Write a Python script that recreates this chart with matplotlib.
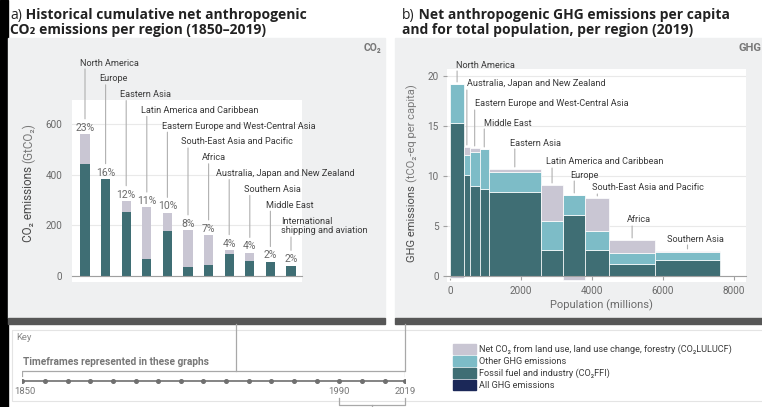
import matplotlib
matplotlib.use("Agg")
import matplotlib.pyplot as plt
import numpy as np
from matplotlib import font_manager
from matplotlib.patches import Rectangle

# ---- data ------------------------------------------------------------------
# a) cumulative net CO2 1850-2019 (GtCO2)
regions_a = ["North America", "Europe", "Eastern Asia", "Latin America and Caribbean",
             "Eastern Europe and West-Central Asia", "South-East Asia and Pacific", "Africa",
             "Australia, Japan and New Zealand", "Southern Asia", "Middle East",
             "International\nshipping and aviation"]
ffi_a = [442, 381, 252, 67, 177, 36, 45, 86, 58, 55, 41]
lulucf_a = [118, 2, 44, 204, 73, 145, 116, 17, 34, 1, 0]
share_a = ["23%", "16%", "12%", "11%", "10%", "8%", "7%", "4%", "4%", "2%", "2%"]

# b) GHG per capita 2019 (tCO2-eq per capita) vs population (millions)
regions_b = ["North America", "Australia, Japan and New Zealand", "Eastern Europe and West-Central Asia",
             "Middle East", "Eastern Asia", "Latin America and Caribbean", "Europe",
             "South-East Asia and Pacific", "Africa", "Southern Asia"]
population_b = [400, 150, 290, 250, 1470, 630, 620, 680, 1280, 1840]
ffi_b = [15.3, 10.1, 9.0, 8.7, 8.4, 2.6, 6.1, 2.6, 1.2, 1.6]
other_b = [3.9, 2.0, 3.4, 4.0, 2.0, 2.9, 2.0, 1.9, 1.1, 0.8]
lulucf_b = [-0.2, 0.8, 0.4, 0.0, 0.3, 3.6, -0.4, 3.3, 1.3, 0.1]

timeline_years = [1850, 1860, 1870, 1880, 1890, 1900, 1910, 1920, 1930, 1940,
                  1950, 1960, 1970, 1980, 1990, 2000, 2010, 2019]
legend_labels = ["Net CO\u2082 from land use, land use change, forestry (CO\u2082LULUCF)",
                 "Other GHG emissions", "Fossil fuel and industry (CO\u2082FFI)", "All GHG emissions"]

# ---- style -----------------------------------------------------------------
C_FFI = "#3f6e74"
C_OTHER = "#7dbcc7"
C_LULUCF = "#c9c6d3"
C_ALL = "#1b2858"
C_PANEL = "#eff0f1"
C_BAR = "#575757"
C_TXT = "#3a3a3a"
C_TICK = "#6a6a6a"

installed = {f.name for f in font_manager.fontManager.ttflist}
NARROW = [f for f in ["Liberation Sans Narrow", "Roboto"] if f in installed][:1] + ["DejaVu Sans"]
TITLE = ["Open Sans", "DejaVu Sans"]
LBL = 6.6  # region labels

W, H = 762, 407
fig = plt.figure(figsize=(W / 100, H / 100), dpi=100)

bg = fig.add_axes([0, 0, 1, 1])
bg.set_xlim(0, W)
bg.set_ylim(H, 0)
bg.axis("off")


def px_axes(x0, y0, x1, y1):
    return fig.add_axes([x0 / W, 1 - y1 / H, (x1 - x0) / W, (y1 - y0) / H])


# backgrounds
bg.add_patch(Rectangle((0, 0), 8, H, color="black"))
bg.add_patch(Rectangle((8, 38), 377, 280, color=C_PANEL))
bg.add_patch(Rectangle((395, 38), 367, 280, color=C_PANEL))
bg.add_patch(Rectangle((8, 318), 377, 6, color=C_BAR))
bg.add_patch(Rectangle((395, 318), 367, 6, color=C_BAR))
bg.add_patch(Rectangle((12, 330), 760, 71, fill=False, edgecolor="#e4e4e4", lw=0.8))

# titles
def title(x, y, prefix, rest):
    t = bg.text(x, y, prefix, fontsize=10, family=TITLE, va="baseline", color="#222")
    bg.annotate(rest, xy=(1, y), xycoords=(t, "data"), fontsize=10, family=TITLE,
                fontweight="bold", va="baseline", color="#222")

title(10, 18.5, "a)", " Historical cumulative net anthropogenic")
bg.text(10, 34, "CO\u2082 emissions per region (1850\u20132019)", fontsize=10, family=TITLE,
        fontweight="bold", va="baseline", color="#222")
title(402, 18.5, "b)", " Net anthropogenic GHG emissions per capita")
bg.text(402, 34, "and for total population, per region (2019)", fontsize=10, family=TITLE,
        fontweight="bold", va="baseline", color="#222")

bg.text(381, 48, "CO\u2082", fontsize=7.5, family=NARROW, fontweight="bold", color="#777",
        ha="right", va="center")
bg.text(761, 48, "GHG", fontsize=8, family=NARROW, fontweight="bold", color="#777",
        ha="right", va="center")


def ylabel(x, y, strong, light, size):
    t = bg.text(x, y, strong, rotation=90, fontsize=size, family=NARROW, color="#4a4a4a",
                ha="center", va="bottom")
    bg.annotate(light, xy=(0.5, 1), xycoords=t, rotation=90, fontsize=size, family=NARROW,
                color="#7a7a7a", ha="center", va="bottom")

ylabel(29, 242, "CO\u2082 emissions ", "(GtCO\u2082)", 8.5)
ylabel(412, 262, "GHG emissions ", "(tCO\u2082-eq per capita)", 8)
bg.text(601, 305, "Population (millions)", fontsize=8, family=NARROW, color=C_TICK,
        ha="center", va="center")

# ---- panel a ---------------------------------------------------------------
ax_a = px_axes(72, 100, 302, 282)
xa = np.arange(len(regions_a))
tot_a = np.array(ffi_a) + np.array(lulucf_a)
ax_a.bar(xa, ffi_a, width=0.45, color=C_FFI, zorder=2)
ax_a.bar(xa, lulucf_a, bottom=ffi_a, width=0.45, color=C_LULUCF, zorder=2)
ax_a.set_xlim(-0.631, 10.534)
ax_a.set_ylim(-23.7, 694.7)
ax_a.set_xticks([])
ax_a.set_yticks([0, 200, 400, 600])
ax_a.grid(axis="y", color="#e9e9e9", lw=0.8)
ax_a.set_axisbelow(True)
for s in ["top", "right", "left"]:
    ax_a.spines[s].set_visible(False)
ax_a.spines["bottom"].set_position(("data", 0))
ax_a.spines["bottom"].set_color("#a0a0a0")
ax_a.tick_params(axis="y", length=0, pad=7, labelsize=7.2, labelcolor=C_TICK)
for lab in ax_a.get_yticklabels():
    lab.set_family(NARROW)

dx_a = [-4.5, -6, -6.5, -5.5, -5, -6.5, -6.5, -13, -5.5, -4.5, -10]
for i, name in enumerate(regions_a):
    ax_a.annotate(share_a[i], xy=(i, tot_a[i]), xytext=(0, 1), textcoords="offset points",
                  ha="center", va="bottom", fontsize=7.5, family=NARROW, color=C_TICK)
    ly = H - (63 + 15.8 * i) - (5 if "\n" in name else 0)
    ax_a.annotate(name, xy=(i, ly), xycoords=("data", "figure pixels"),
                  xytext=(dx_a[i] * 0.72, 0), textcoords="offset points",
                  ha="left", va="center", fontsize=LBL, family=NARROW, color=C_TXT,
                  linespacing=1.05, annotation_clip=False)
    top_y = ly - (11 if "\n" in name else 6)
    ax_a.annotate("", xy=(i, tot_a[i]), xytext=(i, top_y), textcoords=("data", "figure pixels"),
                  arrowprops=dict(arrowstyle="-", color="#b0b0b0", lw=0.8,
                                  shrinkA=0, shrinkB=11), annotation_clip=False)

# ---- panel b ---------------------------------------------------------------
ax_b = px_axes(447, 69, 746, 282)
pop = np.array(population_b)
lefts = np.concatenate([[0], np.cumsum(pop)[:-1]])
ffi = np.array(ffi_b)
oth = np.array(other_b)
lu = np.array(lulucf_b)
kw = dict(align="edge", edgecolor="white", linewidth=0.5, zorder=2)
ax_b.bar(lefts, ffi, width=pop, color=C_FFI, **kw)
ax_b.bar(lefts, oth, bottom=ffi, width=pop, color=C_OTHER, **kw)
ax_b.bar(lefts, np.clip(lu, 0, None), bottom=ffi + oth, width=pop, color=C_LULUCF, **kw)
ax_b.bar(lefts, np.clip(lu, None, 0), width=pop, color=C_LULUCF, **kw)
ax_b.set_xlim(-84.5, 8338)
ax_b.set_ylim(-0.6, 20.7)
ax_b.set_xticks([0, 2000, 4000, 6000, 8000])
ax_b.set_yticks([0, 5, 10, 15, 20])
ax_b.grid(axis="y", color="#e9e9e9", lw=0.8)
ax_b.set_axisbelow(True)
for s in ["top", "right", "left"]:
    ax_b.spines[s].set_visible(False)
ax_b.spines["bottom"].set_position(("data", 0))
ax_b.spines["bottom"].set_color("#a0a0a0")
ax_b.tick_params(axis="both", length=3, color="#a0a0a0", labelsize=7.2, labelcolor=C_TICK)
ax_b.tick_params(axis="x", pad=4)
ax_b.tick_params(axis="y", pad=3)
for lab in ax_b.get_xticklabels() + ax_b.get_yticklabels():
    lab.set_family(NARROW)

ly_b = [65, 84, 104, 123, 143, 162, 175, 188, 220, 239]
dx_b = [-1, 0, 0, 0, -5, -6, -4, -5, -5, -20]
tops_b = ffi + oth + np.clip(lu, 0, None)
for i, name in enumerate(regions_b):
    cx = lefts[i] + pop[i] / 2
    ly = H - ly_b[i]
    ax_b.annotate(name, xy=(cx, ly), xycoords=("data", "figure pixels"),
                  xytext=(dx_b[i] * 0.72, 0), textcoords="offset points",
                  ha="left", va="center", fontsize=LBL, family=NARROW, color=C_TXT,
                  annotation_clip=False)
    ax_b.annotate("", xy=(cx, tops_b[i]), xytext=(cx, ly - 6), textcoords=("data", "figure pixels"),
                  arrowprops=dict(arrowstyle="-", color="#b0b0b0", lw=0.8,
                                  shrinkA=0, shrinkB=1.5), annotation_clip=False)

# ---- key -------------------------------------------------------------------
bg.text(16, 338, "Key", fontsize=6.8, family=NARROW, color="#888", va="center")
bg.text(23, 362, "Timeframes represented in these graphs", fontsize=7.3, family=NARROW,
        fontweight="bold", color="#777", va="center")
bg.plot([236, 236], [324, 371], color="#a8a8a8", lw=0.9)

tl = px_axes(22.3, 330, 405, 401)
tl.set_xlim(1850, 2019)
tl.set_ylim(401, 330)
tl.axis("off")
tl.plot(timeline_years, [380.7] * len(timeline_years), color="#707070", lw=1.2,
        marker="o", ms=2.6)
tl.plot([1850, 1850, 2019, 2019], [376, 371, 371, 376], color="#a8a8a8", lw=0.9)
tl.plot([2019, 2019], [324, 371], color="#a8a8a8", lw=0.9, clip_on=False)
tl.plot([1990, 1990, 2019, 2019], [398, 405, 405, 398], color="#a8a8a8", lw=0.9, clip_on=False)
tl.plot([2004.5, 2004.5], [405, 410], color="#a8a8a8", lw=0.9, clip_on=False)
for yr in [1850, 1990, 2019]:
    tl.text(yr + (1 if yr == 1850 else 0), 391, str(yr), fontsize=6.8, family=NARROW,
            color="#777", ha="center", va="center")

leg_colors = [C_LULUCF, C_OTHER, C_FFI, C_ALL]
for k, (lab, col) in enumerate(zip(legend_labels, leg_colors)):
    y0 = 344 + 12 * k
    bg.add_patch(Rectangle((453, y0), 23, 10, color=col))
    bg.text(479, y0 + 5, lab, fontsize=6.6, family=NARROW, color=C_TXT, va="center")

fig.savefig("out.png", dpi=100)
